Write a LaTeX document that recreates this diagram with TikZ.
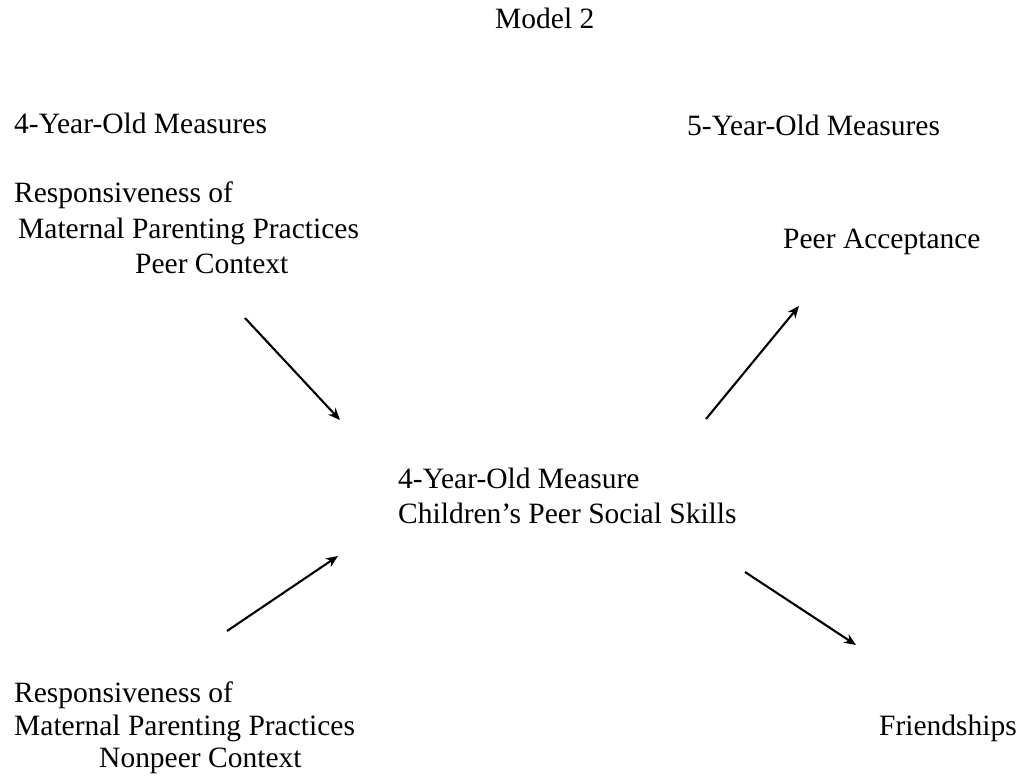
\documentclass[tikz,border=0pt]{standalone}
\usepackage{fontspec}
\setmainfont{Liberation Serif}
\usetikzlibrary{arrows.meta}
\begin{document}
\begin{tikzpicture}[x=1pt,y=-1pt,
  lbl/.style={anchor=base west,inner sep=0pt,font=\fontsize{29.5}{33}\selectfont},
  link/.style={line width=2.1pt,-{Stealth[length=12pt,width=10pt]}}]
\useasboundingbox (0,0) rectangle (1021,777);
\node[lbl] (title) at (495,28) {Model 2};
\node[lbl] (h4) at (14,133) {4-Year-Old Measures};
\node[lbl] (h5) at (687,135) {5-Year-Old Measures};
\node[lbl] (pa) at (14,202) {Responsiveness of};
\node[lbl] (pb) at (18,238) {Maternal Parenting Practices};
\node[lbl] (pc) at (135,273) {Peer Context};
\node[lbl] (acc) at (783,248) {Peer Acceptance};
\node[lbl] (ma) at (398,488) {4-Year-Old Measure};
\node[lbl] (mb) at (398,523) {Children’s Peer Social Skills};
\node[lbl] (na) at (14,702) {Responsiveness of};
\node[lbl] (nb) at (14,735) {Maternal Parenting Practices};
\node[lbl] (nc) at (99,767) {Nonpeer Context};
\node[lbl] (fr) at (879,735) {Friendships};
\coordinate (a1s) at (245,318);
\coordinate (a1e) at (340,420);
\coordinate (a2s) at (706,419);
\coordinate (a2e) at (799,306);
\coordinate (a3s) at (227,631);
\coordinate (a3e) at (338,556);
\coordinate (a4s) at (745,572);
\coordinate (a4e) at (856,645);
\draw[link] (a1s) -- (a1e);
\draw[link] (a2s) -- (a2e);
\draw[link] (a3s) -- (a3e);
\draw[link] (a4s) -- (a4e);
\end{tikzpicture}
\end{document}
